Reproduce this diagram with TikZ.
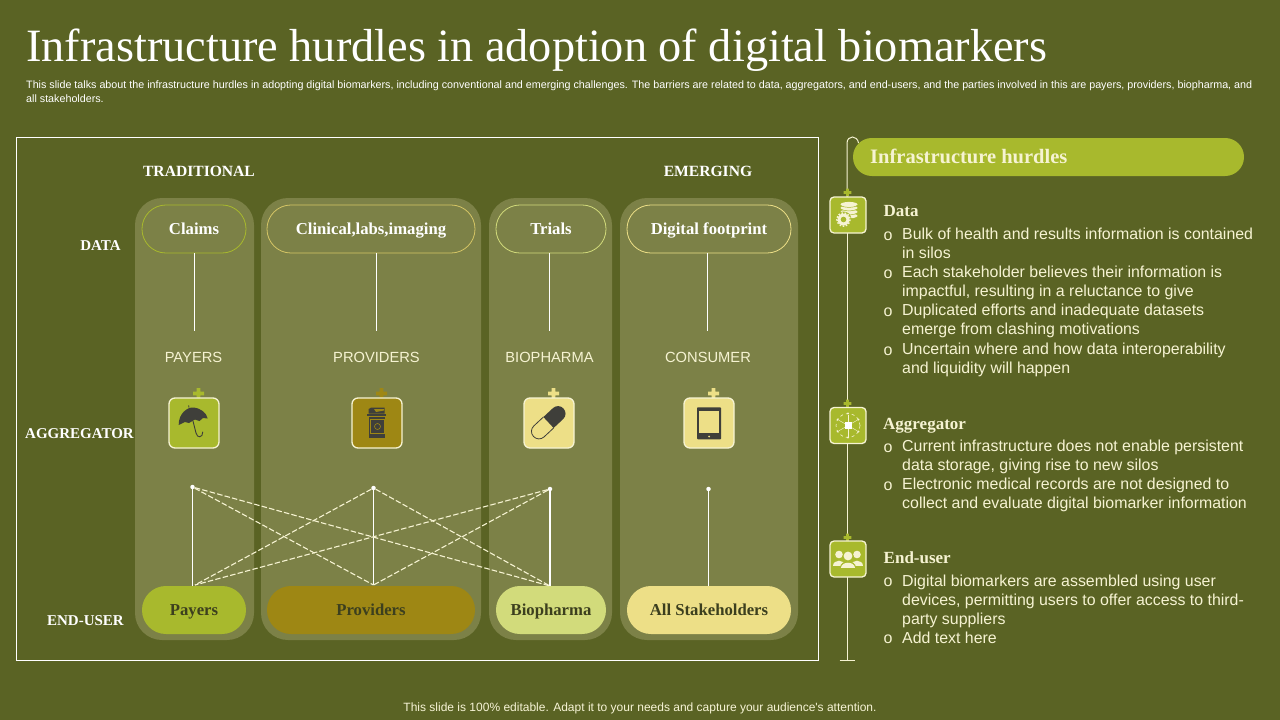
\documentclass[tikz,border=0pt]{standalone}
\usepackage{fontspec}
\setmainfont{Liberation Serif}
\newfontfamily\bodyfont{Liberation Sans}
\definecolor{bgc}{HTML}{5A6324}
\definecolor{panelc}{HTML}{7C8147}
\definecolor{greenc}{HTML}{A8B92D}
\definecolor{brownc}{HTML}{9E8714}
\definecolor{lgreenc}{HTML}{D2DB7B}
\definecolor{yellowc}{HTML}{EDDF87}
\definecolor{darkc}{HTML}{3F3F3A}
\definecolor{textdark}{HTML}{3C3F1E}
\definecolor{creamc}{HTML}{F6F3D2}
\tikzset{
  x=1pt,y=-1pt,
  column/.style={fill=panelc,rounded corners=27},
  toppill/.style={draw=#1,line width=.8pt,fill=panelc,rounded corners=23.9,minimum height=48pt,inner sep=0pt,text height=11pt,text depth=1pt,text=white,font=\fontsize{16.7}{18}\selectfont\bfseries},
  botpill/.style={fill=#1,rounded corners=23.9,minimum height=48pt,inner sep=0pt,text height=11pt,text depth=1pt,text=textdark,font=\fontsize{16.7}{18}\selectfont\bfseries},
  rowlabel/.style={text=white,inner sep=0pt,font=\fontsize{15}{18}\selectfont\bfseries},
  collabel/.style={text=white,inner sep=0pt,font=\fontsize{15.6}{18}\selectfont\bfseries},
  actor/.style={text=creamc,inner sep=0pt,font=\bodyfont\fontsize{14.7}{18}\selectfont},
  iconbox/.style={draw=creamc,line width=1.3pt,fill=#1,rounded corners=6,minimum width=50pt,minimum height=50pt,inner sep=0pt},
  sideicon/.style={draw=creamc,line width=1.3pt,fill=greenc,rounded corners=4,minimum width=36pt,minimum height=36pt,inner sep=0pt},
  link/.style={draw=white,line width=1.2pt},
  dlink/.style={draw=creamc,line width=1.1pt,dash pattern=on 5.5pt off 2.2pt},
  dotnode/.style={circle,fill=white,inner sep=0pt,minimum size=4.5pt},
  heading/.style={anchor=west,text=creamc,inner sep=0pt,text height=11pt,text depth=1pt,font=\fontsize{17}{18}\selectfont\bfseries},
  body/.style={anchor=north west,align=left,text=creamc,inner sep=0pt,font=\bodyfont\fontsize{15.9}{19.2}\selectfont},
  bul/.style={anchor=center,text=creamc,inner sep=0pt,font=\bodyfont\fontsize{16}{18}\selectfont},
}
\newcommand\plusmark[3]{\fill[#1] (#2-5.5,#3-1.9) rectangle (#2+5.5,#3+1.9) (#2-1.9,#3-5.5) rectangle (#2+1.9,#3+5.5);}
\newcommand\smallplus[3]{\fill[#1] (#2-3.8,#3-1.3) rectangle (#2+3.8,#3+1.3) (#2-1.3,#3-3.8) rectangle (#2+1.3,#3+3.8);}
\begin{document}
\begin{tikzpicture}
\useasboundingbox (0,0) rectangle (1280,720);
\fill[bgc] (0,0) rectangle (1280,720);

% title
\node[anchor=west,text=white,inner sep=0pt,font=\fontsize{46.3}{50}\selectfont] (title) at (26,50) {Infrastructure hurdles in adoption of digital biomarkers};
\node[anchor=north west,align=left,text=white,inner sep=0pt,font=\bodyfont\fontsize{10.73}{14}\selectfont] (sub) at (26,80.3) {This slide talks about the infrastructure hurdles in adopting digital biomarkers, including conventional and emerging challenges. The barriers are related to data, aggregators, and end-users, and the parties involved in this are payers, providers, biopharma, and\\all stakeholders.};

% frame
\draw[white,line width=.9pt] (16,137) rectangle (818,660);

% columns
\fill[column] (135,198) rectangle (254,640);
\fill[column] (261,198) rectangle (481,640);
\fill[column] (489,198) rectangle (612,640);
\fill[column] (620,198) rectangle (798,640);

% headers
\node[collabel] (trad) at (199,171) {TRADITIONAL};
\node[collabel] (emer) at (708,171) {EMERGING};
\node[rowlabel] (rdata) at (100.5,246) {DATA};
\node[rowlabel] (ragg) at (79.5,434) {AGGREGATOR};
\node[rowlabel] (rend) at (85.5,621) {END-USER};

% top pills
\node[toppill=greenc,minimum width=104pt] (claims) at (194,229) {Claims};
\node[toppill=yellowc!70!brownc,minimum width=208pt] (clin) at (371,229) {Clinical,labs,imaging};
\node[toppill=lgreenc,minimum width=110pt] (trials) at (551,229) {Trials};
\node[toppill=yellowc,minimum width=164pt] (digi) at (709,229) {Digital footprint};

% actor labels
\node[actor] (apay) at (193.5,357) {PAYERS};
\node[actor] (apro) at (376.5,357) {PROVIDERS};
\node[actor] (abio) at (549.5,357) {BIOPHARMA};
\node[actor] (acon) at (708,357) {CONSUMER};

\coordinate (t1) at (194.5,331);
\coordinate (t2) at (376.5,331);
\coordinate (t3) at (549.5,331);
\coordinate (t4) at (707.5,331);
\draw[link] (194.5,253) -- (t1);
\draw[link] (376.5,253) -- (t2);
\draw[link] (549.5,253) -- (t3);
\draw[link] (707.5,253) -- (t4);

% bottom pills
\node[botpill=greenc,minimum width=104pt] (bpay) at (194,610) {Payers};
\node[botpill=brownc,minimum width=208pt] (bpro) at (371,610) {Providers};
\node[botpill=lgreenc,minimum width=110pt] (bbio) at (551,610) {Biopharma};
\node[botpill=yellowc,minimum width=164pt] (ball) at (709,610) {All Stakeholders};

% dots and links
\node[dotnode] (d1) at (192.5,487) {};
\node[dotnode] (d2) at (373.5,488) {};
\node[dotnode] (d3) at (550,489) {};
\node[dotnode] (d4) at (708.5,489) {};
\coordinate (e1) at (192.5,586);
\coordinate (e1b) at (195,585);
\coordinate (e2) at (373.5,585);
\coordinate (e3) at (550,586);
\coordinate (e4) at (708.5,586);
\draw[link] (d1) -- (e1);
\draw[link] (d2) -- (e2);
\draw[link] (d3) -- (e3);
\draw[link] (d4) -- (e4);
\draw[dlink] (d1) -- (e2);
\draw[dlink] (d1) -- (e3);
\draw[dlink] (d2) -- (e1b);
\draw[dlink] (d2) -- (e3);
\draw[dlink] (d3) -- (e1b);
\draw[dlink] (d3) -- (e2);

% icon boxes
\plusmark{greenc}{198.5}{393.5}
\plusmark{brownc}{381.5}{393.5}
\plusmark{yellowc}{553.5}{393.5}
\plusmark{yellowc}{713.5}{393.5}
\node[iconbox=greenc] (i1) at (194,423) {};
\node[iconbox=brownc] (i2) at (377,423) {};
\node[iconbox=yellowc] (i3) at (549,423) {};
\node[iconbox=yellowc] (i4) at (709,423) {};

% umbrella
\fill[darkc] (178.7,425) .. controls (178.5,413) and (188,407) .. (193,407.5) .. controls (201,408) and (206.5,413) .. (207.7,418.5)
 -- (203,418) -- (199.5,421) -- (195,419.5) -- (189,423) -- (185,422) -- cycle;
\draw[darkc,line width=.8pt] (189,407.5) -- (188.6,405.5);
\draw[darkc,line width=.9pt] (193,421) -- (196,433) .. controls (197,438.5) and (203,438) .. (202.8,431.7);

% bin
\fill[darkc] (368.5,416.5) rectangle (385,437.5);
\fill[darkc] (367.3,414) rectangle (386,416);
\fill[darkc] (368.7,413.5) -- (368.7,409) -- (371,407.7) -- (384.7,407.7) -- (384.7,413.5) -- cycle;
\fill[brownc] (374,409) -- (384,409) -- (384,410.5) -- (376,412) -- cycle;
\draw[brownc,line width=.6pt] (370.5,419.5) rectangle (384,433);
\draw[brownc,line width=.6pt] (377.5,426.5) circle (3);

% capsule
\begin{scope}[shift={(548.5,422.5)},rotate=43]
  \begin{scope}
    \clip (0,-9) rectangle (24,9);
    \fill[darkc,rounded corners=7.4] (-20.5,-7.5) rectangle (20.5,7.5);
  \end{scope}
  \begin{scope}
    \clip (-24,-9) rectangle (0,9);
    \draw[darkc,line width=.8pt,rounded corners=7.4] (-20.5,-7.5) rectangle (20.5,7.5);
  \end{scope}
\end{scope}

% tablet
\fill[darkc,rounded corners=.8] (697,407.3) rectangle (721,439.3);
\fill[yellowc] (699.3,411.3) rectangle (718.7,433.3);
\fill[yellowc] (709,436.5) circle (1);

% right header
\draw[creamc,line width=1pt] (847,200) -- (847,143) .. controls (847,139) and (850,137) .. (852.5,137) .. controls (855,137) and (858,139) .. (858.5,143);
\node[fill=greenc,rounded corners=18.9,minimum width=391pt,minimum height=38pt,inner sep=0pt] (hurd) at (1048.5,157) {};
\node[anchor=west,text=creamc,inner sep=0pt,text height=12pt,text depth=1pt,font=\fontsize{20.5}{20}\selectfont\bfseries] (hurdt) at (870,158) {Infrastructure hurdles};

% timeline
\coordinate (tlend) at (847,660);
\coordinate (tl) at (839.5,660);
\coordinate (tr) at (855,660);
\draw[creamc,line width=1pt] (847,200) -- (tlend);
\draw[creamc,line width=1pt] (tl) -- (tr);

\smallplus{greenc}{847.5}{192.5}
\smallplus{greenc}{847.5}{403.5}
\smallplus{greenc}{847.5}{537.5}
\node[sideicon] (s1) at (848,215) {};
\node[sideicon] (s2) at (848,425.5) {};
\node[sideicon] (s3) at (848,559) {};

% database + gear
\foreach \yy in {216,212,208,204.5}{
  \fill[creamc] (849,\yy) ellipse (8.5 and 2.6);
  \draw[greenc,line width=.5pt] (840.5,\yy+.6) .. controls (843,\yy+3.6) and (855,\yy+3.6) .. (857.5,\yy+.6);
}
\fill[greenc] (843.5,219.5) circle (8);
\fill[creamc] (843.5,219.5) circle (6);
\draw[creamc,line width=1.4pt,dash pattern=on 1.6pt off 1.6pt] (843.5,219.5) circle (6.6);
\fill[greenc] (843.5,219.5) circle (2.8);

% aggregator icon
\draw[creamc,line width=.6pt,dashed] (848,425.5) circle (12);
\foreach \a in {30,90,150,210,270,330}{
  \fill[creamc] (848,425.5) ++(\a:12) circle (1.1);
  \draw[creamc,line width=.4pt] (848,425.5) -- ++(\a:11);
}
\fill[white] (844.5,422) rectangle (851.5,429);

% people icon
\fill[creamc] (839,554.5) circle (3.8);
\fill[creamc] (857,554.5) circle (3.8);
\fill[creamc] (833,566) .. controls (833,559) and (845,559) .. (845,566) -- cycle;
\fill[creamc] (851,566) .. controls (851,559) and (863,559) .. (863,566) -- cycle;
\fill[greenc] (848,556) circle (5.5);
\fill[creamc] (848,556) circle (4.4);
\fill[greenc] (840,568) .. controls (840,559) and (856,559) .. (856,568) -- cycle;
\fill[creamc] (841,568) .. controls (841,560.5) and (855,560.5) .. (855,568) -- cycle;

% data
\node[heading] (hdata) at (883.5,211) {Data};
\node[bul] (b1) at (888,236.5) {o};
\node[bul] (b2) at (888,274.5) {o};
\node[bul] (b3) at (888,312.5) {o};
\node[bul] (b4) at (888,351.5) {o};
\node[body] (t11) at (902,228) {Bulk of health and results information is contained\\in silos};
\node[body] (t12) at (902,266) {Each stakeholder believes their information is\\impactful, resulting in a reluctance to give};
\node[body] (t13) at (902,304) {Duplicated efforts and inadequate datasets\\emerge from clashing motivations};
\node[body] (t14) at (902,343) {Uncertain where and how data interoperability\\and liquidity will happen};

% aggregator
\node[heading] (hagg) at (883,424) {Aggregator};
\node[bul] (b5) at (888,448.5) {o};
\node[bul] (b6) at (888,486.5) {o};
\node[body] (t21) at (902,440) {Current infrastructure does not enable persistent\\data storage, giving rise to new silos};
\node[body] (t22) at (902,478) {Electronic medical records are not designed to\\collect and evaluate digital biomarker information};

% end-user
\node[heading] (hend) at (883.5,558) {End-user};
\node[bul] (b7) at (888,582.5) {o};
\node[bul] (b8) at (888,639.5) {o};
\node[body] (t31) at (902,574.5) {Digital biomarkers are assembled using user\\devices, permitting users to offer access to third-\\party suppliers};
\node[body] (t32) at (902,631.5) {Add text here};

% footer
\node[text=creamc!90!white,inner sep=0pt,font=\bodyfont\fontsize{12}{14}\selectfont] (foot) at (640,708.5) {This slide is 100\% editable. Adapt it to your needs and capture your audience's attention.};
\end{tikzpicture}
\end{document}
